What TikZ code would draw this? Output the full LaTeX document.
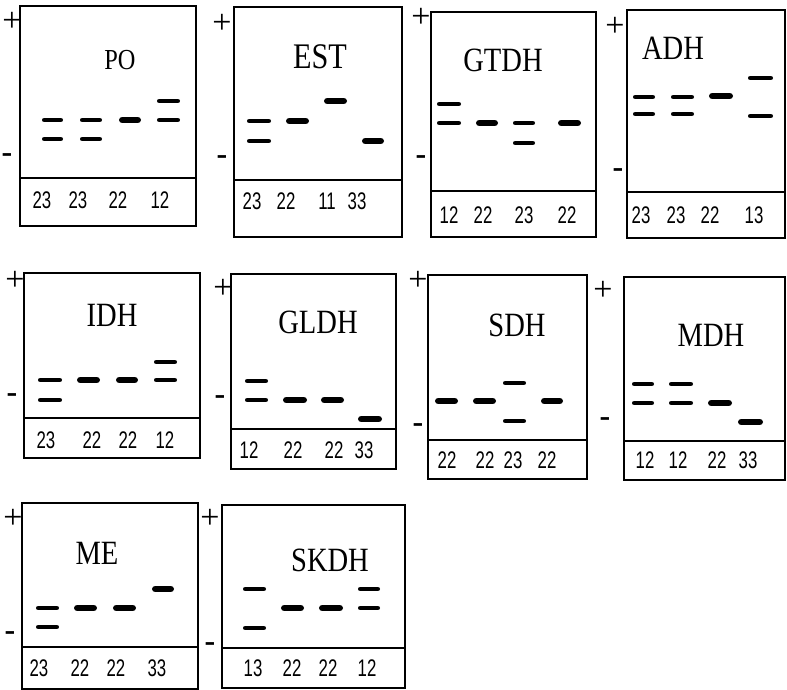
\documentclass[tikz,border=0pt]{standalone}
\usepackage{fontspec}
\setmainfont{Liberation Serif}
\newfontfamily\lanefont{Liberation Sans}
\newcommand{\gelname}[2][34]{{\fontsize{#1}{#1}\selectfont\scalebox{0.84}[1]{#2}}}
\newcommand{\genotype}[1]{{\lanefont\fontsize{24}{24}\selectfont\scalebox{0.7}[1]{#1}}}
\begin{document}
\begin{tikzpicture}[x=1pt,y=-1pt,
  gelbox/.style={draw=black,line width=1.9pt},
  divider/.style={draw=black,line width=1.6pt},
  band/.style={line width=4.8pt,line cap=round,shorten >=2.4pt,shorten <=2.4pt},
  bandthick/.style={line width=6.8pt,line cap=round,shorten >=3.4pt,shorten <=3.4pt},
  title/.style={inner sep=0pt,anchor=center},
  geno/.style={inner sep=0pt,anchor=center},
  pole/.style={inner sep=0pt,anchor=center,font=\fontsize{34}{34}\selectfont},
  minus/.style={inner sep=0pt,anchor=center,font=\bfseries\fontsize{32}{32}\selectfont}]
\useasboundingbox (0,0) rectangle (787,690);

% ---------- PO ----------
\draw[gelbox] (20,6) rectangle (196,226);
\draw[divider] (20,178) -- (196,178);
\node[title] (po) at (120,60) {\gelname[29]{PO}};
\node[pole] (poP) at (12,22) {+};
\node[minus] (poM) at (7,158) {-};
\draw[band] (42,120) -- (63,120); \draw[band] (42,139) -- (63,139);
\draw[band] (80,120) -- (102,120); \draw[band] (80,139) -- (102,139);
\draw[bandthick] (119,120) -- (141,120);
\draw[band] (157,101) -- (180,101); \draw[band] (157,120) -- (180,120);
\node[geno] (po1) at (42,200) {\genotype{23}};
\node[geno] (po2) at (78,200) {\genotype{23}};
\node[geno] (po3) at (118,200) {\genotype{22}};
\node[geno] (po4) at (160,200) {\genotype{12}};

% ---------- EST ----------
\draw[gelbox] (234,7) rectangle (402,237);
\draw[divider] (234,180) -- (402,180);
\node[title] (est) at (320,57) {\gelname[36]{EST}};
\node[pole] (estP) at (222,24) {+};
\node[minus] (estM) at (222,160) {-};
\draw[band] (247,121) -- (271,121); \draw[band] (247,141) -- (271,141);
\draw[bandthick] (286,121) -- (309,121);
\draw[bandthick] (324,101) -- (347,101);
\draw[bandthick] (362,141) -- (384,141);
\node[geno] (est1) at (252,201) {\genotype{23}};
\node[geno] (est2) at (286,201) {\genotype{22}};
\node[geno] (est3) at (327,201) {\genotype{11}};
\node[geno] (est4) at (357,201) {\genotype{33}};

% ---------- GTDH ----------
\draw[gelbox] (431,12) rectangle (596,237);
\draw[divider] (431,191) -- (596,191);
\node[title] (gtdh) at (503,60) {\gelname{GTDH}};
\node[pole] (gtdhP) at (421,18) {+};
\node[minus] (gtdhM) at (421,160) {-};
\draw[band] (437,104) -- (461,104); \draw[band] (437,123) -- (461,123);
\draw[bandthick] (476,123) -- (498,123);
\draw[band] (513,123) -- (535,123); \draw[band] (513,143) -- (535,143);
\draw[bandthick] (558,123) -- (581,123);
\node[geno] (gtdh1) at (449,215) {\genotype{12}};
\node[geno] (gtdh2) at (483,215) {\genotype{22}};
\node[geno] (gtdh3) at (524,215) {\genotype{23}};
\node[geno] (gtdh4) at (567,215) {\genotype{22}};

% ---------- ADH ----------
\draw[gelbox] (627,10) rectangle (785,238);
\draw[divider] (627,192) -- (785,192);
\node[title] (adh) at (673,48) {\gelname{ADH}};
\node[pole] (adhP) at (615,27) {+};
\node[minus] (adhM) at (618,173) {-};
\draw[band] (633,97) -- (655,97); \draw[band] (633,114) -- (655,114);
\draw[band] (671,97) -- (694,97); \draw[band] (671,114) -- (694,114);
\draw[bandthick] (709,96) -- (733,96);
\draw[band] (748,78) -- (773,78); \draw[band] (748,116) -- (773,116);
\node[geno] (adh1) at (641,215) {\genotype{23}};
\node[geno] (adh2) at (676,215) {\genotype{23}};
\node[geno] (adh3) at (710,215) {\genotype{22}};
\node[geno] (adh4) at (754,215) {\genotype{13}};

% ---------- IDH ----------
\draw[gelbox] (24,273) rectangle (200,458);
\draw[divider] (24,418) -- (200,418);
\node[title] (idh) at (112,315) {\gelname{IDH}};
\node[pole] (idhP) at (15,281) {+};
\node[minus] (idhM) at (12,398) {-};
\draw[band] (38,380) -- (62,380); \draw[band] (38,400) -- (62,400);
\draw[bandthick] (77,380) -- (100,380);
\draw[bandthick] (116,380) -- (138,380);
\draw[band] (154,362) -- (177,362); \draw[band] (154,380) -- (177,380);
\node[geno] (idh1) at (46,440) {\genotype{23}};
\node[geno] (idh2) at (92,440) {\genotype{22}};
\node[geno] (idh3) at (128,440) {\genotype{22}};
\node[geno] (idh4) at (165,440) {\genotype{12}};

% ---------- GLDH ----------
\draw[gelbox] (231,274) rectangle (396,469);
\draw[divider] (231,429) -- (396,429);
\node[title] (gldh) at (318,322) {\gelname{GLDH}};
\node[pole] (gldhP) at (223,289) {+};
\node[minus] (gldhM) at (220,400) {-};
\draw[band] (245,381) -- (268,381); \draw[band] (245,400) -- (268,400);
\draw[bandthick] (283,400) -- (307,400);
\draw[bandthick] (321,400) -- (344,400);
\draw[bandthick] (358,419) -- (382,419);
\node[geno] (gldh1) at (249,450) {\genotype{12}};
\node[geno] (gldh2) at (293,450) {\genotype{22}};
\node[geno] (gldh3) at (334,450) {\genotype{22}};
\node[geno] (gldh4) at (364,450) {\genotype{33}};

% ---------- SDH ----------
\draw[gelbox] (428,275) rectangle (587,479);
\draw[divider] (428,440) -- (587,440);
\node[title] (sdh) at (517,325) {\gelname{SDH}};
\node[pole] (sdhP) at (418,281) {+};
\node[minus] (sdhM) at (418,428) {-};
\draw[bandthick] (435,401) -- (458,401);
\draw[bandthick] (473,401) -- (496,401);
\draw[band] (503,383) -- (526,383); \draw[band] (503,421) -- (526,421);
\draw[bandthick] (541,401) -- (563,401);
\node[geno] (sdh1) at (447,460) {\genotype{22}};
\node[geno] (sdh2) at (485,460) {\genotype{22}};
\node[geno] (sdh3) at (513,460) {\genotype{23}};
\node[geno] (sdh4) at (547,460) {\genotype{22}};

% ---------- MDH ----------
\draw[gelbox] (624,277) rectangle (785,480);
\draw[divider] (624,441) -- (785,441);
\node[title] (mdh) at (711,335) {\gelname{MDH}};
\node[pole] (mdhP) at (603,291) {+};
\node[minus] (mdhM) at (605,422) {-};
\draw[band] (632,384) -- (654,384); \draw[band] (632,403) -- (654,403);
\draw[band] (669,384) -- (693,384); \draw[band] (669,403) -- (693,403);
\draw[bandthick] (708,403) -- (732,403);
\draw[bandthick] (738,422) -- (763,422);
\node[geno] (mdh1) at (645,460) {\genotype{12}};
\node[geno] (mdh2) at (678,460) {\genotype{12}};
\node[geno] (mdh3) at (717,460) {\genotype{22}};
\node[geno] (mdh4) at (748,460) {\genotype{33}};

% ---------- ME ----------
\draw[gelbox] (22,503) rectangle (198,689);
\draw[divider] (22,647) -- (198,647);
\node[title] (me) at (97,553) {\gelname{ME}};
\node[pole] (meP) at (13,519) {+};
\node[minus] (meM) at (10,636) {-};
\draw[band] (36,608) -- (59,608); \draw[band] (36,627) -- (59,627);
\draw[bandthick] (74,608) -- (97,608);
\draw[bandthick] (113,608) -- (136,608);
\draw[bandthick] (152,589) -- (174,589);
\node[geno] (me1) at (39,668) {\genotype{23}};
\node[geno] (me2) at (80,668) {\genotype{22}};
\node[geno] (me3) at (116,668) {\genotype{22}};
\node[geno] (me4) at (157,668) {\genotype{33}};

% ---------- SKDH ----------
\draw[gelbox] (222,505) rectangle (405,688);
\draw[divider] (222,648) -- (405,648);
\node[title] (skdh) at (330,560) {\gelname{SKDH}};
\node[pole] (skdhP) at (210,519) {+};
\node[minus] (skdhM) at (210,647) {-};
\draw[band] (243,589) -- (266,589); \draw[band] (243,628) -- (266,628);
\draw[bandthick] (281,608) -- (304,608);
\draw[bandthick] (319,608) -- (343,608);
\draw[band] (358,589) -- (380,589); \draw[band] (358,608) -- (380,608);
\node[geno] (skdh1) at (253,668) {\genotype{13}};
\node[geno] (skdh2) at (292,668) {\genotype{22}};
\node[geno] (skdh3) at (328,668) {\genotype{22}};
\node[geno] (skdh4) at (367,668) {\genotype{12}};
\end{tikzpicture}
\end{document}
